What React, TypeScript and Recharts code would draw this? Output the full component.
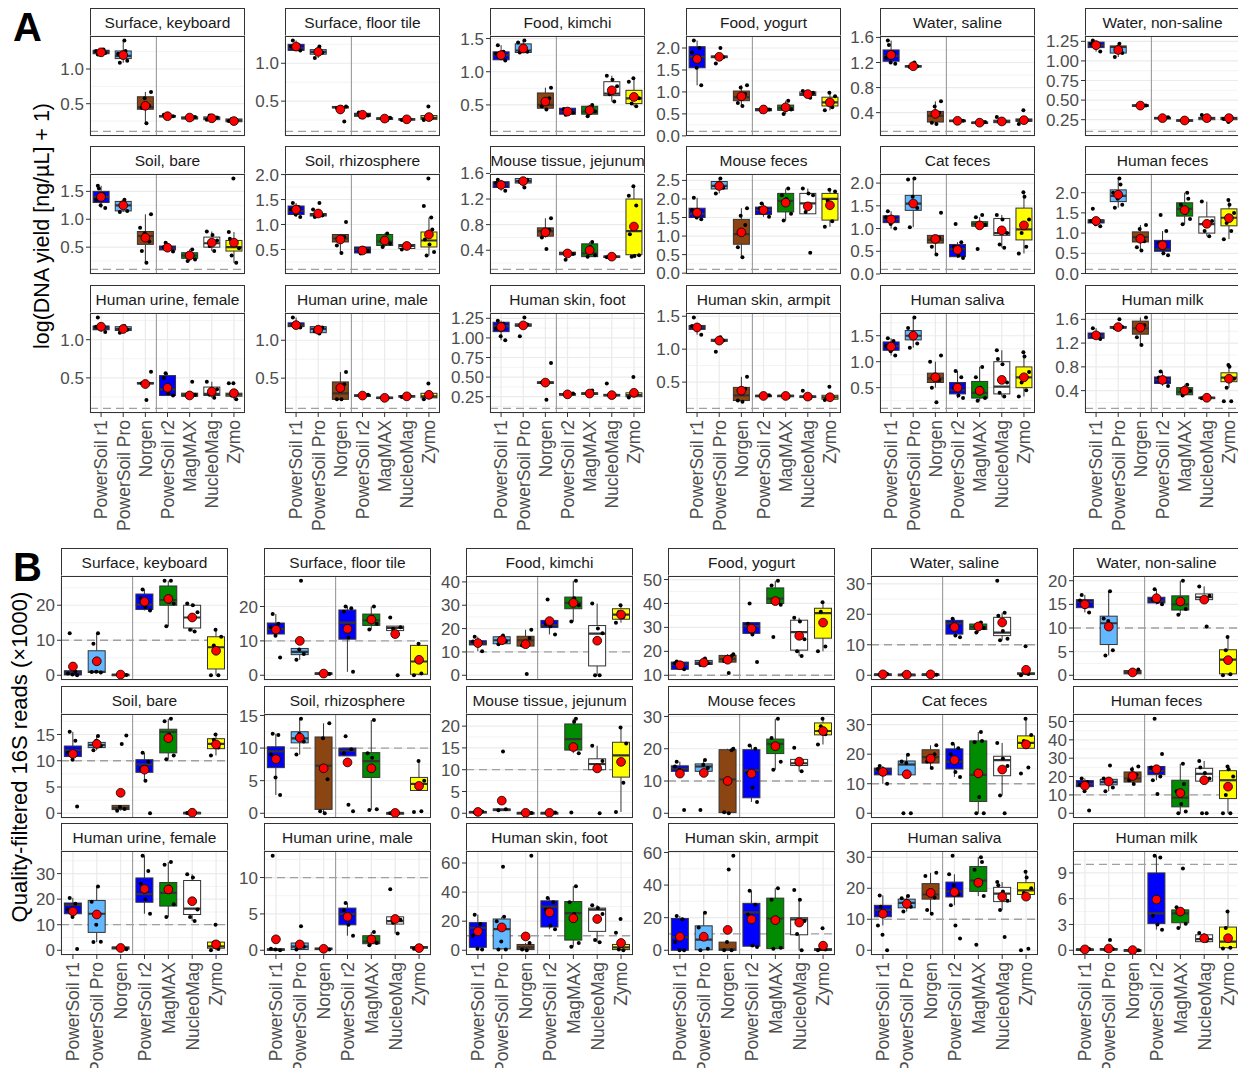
import React from "react";
import { ComposedChart, Bar, Scatter, XAxis, YAxis, CartesianGrid, ReferenceLine } from "recharts";

const FONT = "'Liberation Sans', Arial, Helvetica, sans-serif";

const METHODS = ["PowerSoil r1", "PowerSoil Pro", "Norgen", "PowerSoil r2", "MagMAX", "NucleoMag", "Zymo"];
const METHOD_FILLS = ["#0000FF", "#63B8FF", "#8B4513", "#0000FF", "#008B00", "#FFFFFF", "#FFFF00"];

// each box: [q1, median, q3, mean, points]
type Box = [number, number, number, number, number[]];

// ---------- Panel A: log(DNA yield + 1) ----------
const A_KEYBOARD: Box[] = [
  [1.22, 1.25, 1.27, 1.24, [1.21, 1.23, 1.25, 1.26, 1.28]],
  [1.15, 1.19, 1.26, 1.2, [1.41, 1.09, 1.12, 1.18, 1.22, 1.26]],
  [0.42, 0.45, 0.6, 0.47, [0.67, 0.22, 0.44, 0.47, 0.58]],
  [0.31, 0.32, 0.33, 0.32, [0.31, 0.32, 0.33, 0.34]],
  [0.28, 0.29, 0.31, 0.3, [0.28, 0.29, 0.31, 0.32]],
  [0.27, 0.29, 0.31, 0.29, [0.27, 0.29, 0.33, 0.3]],
  [0.24, 0.26, 0.28, 0.25, [0.23, 0.25, 0.27, 0.28]],
];
const A_FLOOR: Box[] = [
  [1.17, 1.2, 1.25, 1.22, [1.3, 1.17, 1.19, 1.22, 1.24]],
  [1.12, 1.15, 1.18, 1.15, [1.22, 1.07, 1.14, 1.16]],
  [0.41, 0.42, 0.43, 0.39, [0.43, 0.42, 0.41, 0.23]],
  [0.3, 0.32, 0.34, 0.32, [0.29, 0.31, 0.33, 0.35]],
  [0.26, 0.27, 0.28, 0.27, [0.25, 0.27, 0.28]],
  [0.25, 0.26, 0.27, 0.26, [0.25, 0.26, 0.27]],
  [0.26, 0.28, 0.31, 0.29, [0.43, 0.25, 0.27, 0.3]],
];
const A_KIMCHI: Box[] = [
  [1.18, 1.25, 1.3, 1.25, [1.4, 1.17, 1.22, 1.27, 1.3]],
  [1.29, 1.32, 1.42, 1.35, [1.47, 1.29, 1.3, 1.35, 1.44]],
  [0.45, 0.5, 0.68, 0.55, [0.76, 0.43, 0.48, 0.6]],
  [0.36, 0.4, 0.45, 0.4, [0.35, 0.38, 0.42, 0.44]],
  [0.36, 0.4, 0.48, 0.42, [0.5, 0.33, 0.4, 0.45]],
  [0.64, 0.67, 0.85, 0.72, [0.94, 0.55, 0.66, 0.78, 0.88]],
  [0.52, 0.6, 0.72, 0.62, [0.9, 0.85, 0.48, 0.52, 0.6]],
];
const A_YOGURT: Box[] = [
  [1.55, 1.8, 2.03, 1.75, [2.17, 1.15, 1.55, 1.9, 2.0]],
  [1.78, 1.8, 1.82, 1.8, [2.0, 1.65, 1.79, 1.81]],
  [0.8, 0.88, 1.02, 0.9, [1.15, 0.68, 0.75, 0.95, 1.1]],
  [0.57, 0.6, 0.62, 0.6, [0.55, 0.6, 0.65]],
  [0.58, 0.63, 0.7, 0.65, [0.8, 0.5, 0.6, 0.68]],
  [0.92, 0.95, 1.0, 0.95, [1.02, 0.87, 0.94, 0.98]],
  [0.68, 0.76, 0.88, 0.76, [0.98, 0.58, 0.65, 0.8, 0.9]],
];
const A_SALINE: Box[] = [
  [1.22, 1.3, 1.4, 1.32, [1.55, 1.18, 1.2, 1.28, 1.35, 1.48]],
  [1.13, 1.14, 1.15, 1.14, [1.2, 1.13, 1.14]],
  [0.25, 0.35, 0.42, 0.38, [0.58, 0.22, 0.24, 0.4, 0.5]],
  [0.26, 0.27, 0.28, 0.27, [0.26, 0.27, 0.28]],
  [0.23, 0.24, 0.25, 0.24, [0.23, 0.24, 0.25]],
  [0.24, 0.26, 0.28, 0.26, [0.33, 0.24, 0.26]],
  [0.26, 0.28, 0.3, 0.28, [0.44, 0.22, 0.27, 0.29]],
];
const A_NONSALINE: Box[] = [
  [1.17, 1.2, 1.24, 1.2, [1.26, 1.12, 1.19, 1.22]],
  [1.1, 1.18, 1.19, 1.14, [1.22, 1.05, 1.1, 1.17]],
  [0.42, 0.43, 0.44, 0.43, [0.43, 0.44]],
  [0.26, 0.27, 0.28, 0.27, [0.27, 0.28]],
  [0.23, 0.24, 0.25, 0.24, [0.23, 0.25]],
  [0.25, 0.27, 0.28, 0.27, [0.31, 0.25, 0.27]],
  [0.25, 0.27, 0.28, 0.27, [0.22, 0.26, 0.28]],
];
const A_SOILBARE: Box[] = [
  [1.3, 1.4, 1.5, 1.4, [1.6, 1.2, 1.25, 1.35, 1.45, 1.55]],
  [1.15, 1.25, 1.32, 1.25, [1.35, 1.13, 1.15, 1.3]],
  [0.55, 0.7, 0.78, 0.67, [1.09, 0.22, 0.43, 0.6, 0.75, 0.85]],
  [0.45, 0.48, 0.52, 0.49, [0.58, 0.42, 0.47, 0.5]],
  [0.3, 0.35, 0.4, 0.35, [0.46, 0.25, 0.28, 0.38]],
  [0.5, 0.57, 0.68, 0.58, [0.78, 0.43, 0.52, 0.62, 0.72]],
  [0.43, 0.5, 0.62, 0.58, [1.73, 0.77, 0.22, 0.35, 0.48, 0.55, 0.65]],
];
const A_RHIZO: Box[] = [
  [1.2, 1.27, 1.37, 1.3, [1.43, 1.15, 1.2, 1.3, 1.35]],
  [1.17, 1.19, 1.22, 1.22, [1.43, 1.15, 1.18, 1.2, 1.3]],
  [0.65, 0.72, 0.8, 0.7, [1.05, 0.43, 0.58, 0.75]],
  [0.43, 0.5, 0.55, 0.48, [0.42, 0.47, 0.53]],
  [0.58, 0.66, 0.8, 0.68, [0.82, 0.55, 0.62, 0.72]],
  [0.52, 0.57, 0.6, 0.57, [0.5, 0.56, 0.6]],
  [0.55, 0.68, 0.85, 0.8, [1.92, 1.37, 1.14, 0.38, 0.45, 0.6, 0.7, 0.9]],
];
const A_JEJUNUM: Box[] = [
  [1.38, 1.43, 1.47, 1.42, [1.5, 1.33, 1.4, 1.45]],
  [1.45, 1.48, 1.52, 1.48, [1.38, 1.47, 1.5]],
  [0.62, 0.7, 0.75, 0.68, [0.9, 0.42, 0.6, 0.72]],
  [0.33, 0.35, 0.37, 0.35, [0.25, 0.34, 0.36]],
  [0.3, 0.35, 0.5, 0.4, [0.53, 0.3, 0.32, 0.45]],
  [0.29, 0.3, 0.31, 0.3, [0.29, 0.31]],
  [0.33, 0.7, 1.2, 0.77, [1.4, 1.25, 1.1, 0.3, 0.32, 0.31, 0.65]],
];
const A_MOUSEFECES: Box[] = [
  [1.5, 1.6, 1.75, 1.63, [2.03, 1.45, 1.5, 1.7]],
  [2.27, 2.35, 2.47, 2.35, [2.55, 2.15, 2.3, 2.4]],
  [0.78, 1.05, 1.45, 1.1, [1.75, 0.43, 0.7, 1.3, 1.55]],
  [1.58, 1.7, 1.78, 1.7, [1.88, 1.52, 1.65, 1.75]],
  [1.65, 1.95, 2.15, 1.9, [2.28, 1.42, 1.6, 2.0, 2.1]],
  [1.6, 1.88, 2.15, 1.8, [2.28, 0.55, 1.65, 2.1, 2.15]],
  [1.43, 2.0, 2.15, 1.83, [2.25, 1.25, 1.4, 1.95, 2.2]],
];
const A_CATFECES: Box[] = [
  [1.13, 1.2, 1.28, 1.2, [1.38, 1.0, 1.1, 1.25]],
  [1.4, 1.55, 1.73, 1.55, [2.1, 1.03, 1.45, 1.7, 2.08]],
  [0.68, 0.75, 0.85, 0.77, [1.35, 0.43, 0.6, 0.8]],
  [0.38, 0.55, 0.65, 0.53, [1.1, 0.35, 0.4, 0.6, 0.7]],
  [1.05, 1.1, 1.15, 1.07, [1.3, 0.55, 1.08, 1.12, 1.25]],
  [0.85, 0.9, 1.22, 0.96, [1.3, 0.58, 0.65, 0.9, 1.2]],
  [0.75, 0.98, 1.45, 1.07, [1.8, 0.45, 0.6, 0.9, 1.2, 1.7]],
];
const A_HUMANFECES: Box[] = [
  [1.25, 1.3, 1.33, 1.3, [1.6, 1.17, 1.22, 1.3, 1.32]],
  [1.78, 1.92, 2.07, 1.95, [2.35, 1.63, 1.7, 1.85, 2.0, 2.2]],
  [0.78, 0.9, 1.03, 0.86, [1.2, 0.57, 0.65, 0.8, 1.1]],
  [0.55, 0.6, 0.82, 0.7, [1.45, 0.45, 0.5, 0.75, 1.05]],
  [1.42, 1.6, 1.75, 1.57, [2.0, 1.22, 1.35, 1.5, 1.7, 1.85]],
  [1.0, 1.22, 1.4, 1.23, [1.78, 0.92, 1.05, 1.3]],
  [1.18, 1.38, 1.6, 1.37, [1.82, 0.85, 1.05, 1.25, 1.5, 1.7]],
];
const A_URINE_F: Box[] = [
  [1.13, 1.15, 1.18, 1.17, [1.29, 1.1, 1.14, 1.17]],
  [1.12, 1.14, 1.17, 1.14, [1.18, 1.09, 1.13, 1.16]],
  [0.42, 0.43, 0.44, 0.42, [0.58, 0.21, 0.43]],
  [0.27, 0.35, 0.53, 0.37, [0.56, 0.27, 0.3, 0.5]],
  [0.26, 0.27, 0.3, 0.27, [0.45, 0.25, 0.28]],
  [0.27, 0.29, 0.38, 0.32, [0.45, 0.24, 0.28, 0.35]],
  [0.26, 0.28, 0.3, 0.3, [0.43, 0.43, 0.22, 0.27]],
];
const A_URINE_M: Box[] = [
  [1.18, 1.2, 1.23, 1.2, [1.3, 1.17, 1.21]],
  [1.1, 1.15, 1.18, 1.14, [1.09, 1.12, 1.17]],
  [0.22, 0.3, 0.45, 0.37, [0.58, 0.22, 0.22, 0.42]],
  [0.26, 0.27, 0.28, 0.27, [0.26, 0.28]],
  [0.23, 0.24, 0.25, 0.24, [0.23, 0.25]],
  [0.25, 0.26, 0.27, 0.26, [0.25, 0.27]],
  [0.24, 0.26, 0.3, 0.28, [0.43, 0.22, 0.27]],
];
const A_SKIN_FOOT: Box[] = [
  [1.08, 1.15, 1.2, 1.14, [1.22, 0.97, 1.02, 1.12, 1.18]],
  [1.15, 1.16, 1.18, 1.16, [1.26, 1.02, 1.17]],
  [0.42, 0.43, 0.44, 0.43, [0.68, 0.21, 0.43]],
  [0.27, 0.28, 0.29, 0.28, [0.27, 0.29]],
  [0.28, 0.29, 0.3, 0.29, [0.33, 0.28]],
  [0.26, 0.27, 0.28, 0.27, [0.42, 0.26]],
  [0.25, 0.27, 0.3, 0.3, [0.5, 0.24, 0.28]],
];
const A_SKIN_ARMPIT: Box[] = [
  [1.3, 1.33, 1.36, 1.33, [1.48, 1.22, 1.3, 1.35]],
  [1.12, 1.13, 1.15, 1.13, [1.18, 0.96, 1.13]],
  [0.22, 0.3, 0.42, 0.37, [0.58, 0.2, 0.22, 0.4]],
  [0.28, 0.29, 0.3, 0.29, [0.28, 0.3]],
  [0.28, 0.29, 0.3, 0.29, [0.27, 0.3]],
  [0.27, 0.28, 0.29, 0.28, [0.37, 0.26]],
  [0.24, 0.27, 0.3, 0.27, [0.43, 0.23]],
];
const A_SALIVA: Box[] = [
  [1.22, 1.3, 1.38, 1.29, [1.45, 1.12, 1.2, 1.3, 1.4]],
  [1.42, 1.5, 1.6, 1.5, [1.85, 1.27, 1.35, 1.55, 1.65]],
  [0.6, 0.68, 0.78, 0.7, [1.12, 0.22, 0.5, 0.65, 0.75, 1.0]],
  [0.38, 0.45, 0.6, 0.5, [0.82, 0.3, 0.35, 0.5, 0.7]],
  [0.3, 0.4, 0.62, 0.44, [0.9, 0.25, 0.3, 0.5, 0.7]],
  [0.38, 0.52, 1.0, 0.65, [1.22, 0.33, 0.4, 0.6, 0.95, 1.05]],
  [0.5, 0.7, 0.9, 0.7, [1.18, 0.33, 0.45, 0.6, 0.8, 1.1]],
];
const A_MILK: Box[] = [
  [1.28, 1.32, 1.37, 1.33, [1.45, 1.27, 1.35]],
  [1.45, 1.47, 1.48, 1.47, [1.6, 1.45, 1.47]],
  [1.35, 1.45, 1.57, 1.46, [1.63, 1.17, 1.3, 1.5]],
  [0.52, 0.58, 0.63, 0.58, [0.72, 0.48, 0.55, 0.62]],
  [0.33, 0.38, 0.45, 0.4, [0.5, 0.32, 0.4]],
  [0.27, 0.28, 0.29, 0.28, [0.27, 0.29]],
  [0.55, 0.62, 0.7, 0.6, [0.83, 0.22, 0.22, 0.45, 0.6, 0.8]],
];

// ---------- Panel B: Quality-filtered 16S reads (x1000) ----------
const B_KEYBOARD: Box[] = [
  [0.1, 0.8, 1.3, 2.5, [12, 0, 0.2, 0.5, 1.0]],
  [0.8, 1.0, 7, 4, [12, 9, 0.8, 1.0, 0.9]],
  [0.05, 0.15, 0.3, 0.2, [0.1, 0.3]],
  [18.8, 20.2, 23.2, 21, [24.5, 18.5, 19.5, 22]],
  [20, 21.5, 25.5, 21.8, [27, 14, 20.5, 21, 27]],
  [13.5, 16.5, 20, 16.5, [20.5, 12.5, 13, 18, 20]],
  [1.8, 8, 11, 7, [13, 0, 0, 8.5, 11]],
];
const B_FLOOR: Box[] = [
  [12, 13.5, 15.2, 13.3, [17.8, 5.2, 11.5, 14, 15]],
  [6, 6.8, 7.8, 10, [27.5, 4.5, 6.2, 7.5]],
  [0.3, 0.5, 0.7, 0.5, [0.4, 0.6]],
  [10.5, 15.3, 19, 13.5, [20, 1, 11, 18.5, 19.5]],
  [14.5, 16, 17.8, 16.2, [20, 13.3, 15, 17]],
  [13, 13.8, 14.3, 12, [16.8, 0, 13.5, 14]],
  [0.3, 4, 8.7, 4.5, [9.2, 0, 0.5, 4.5]],
];
const B_KIMCHI: Box[] = [
  [13, 13.8, 14.8, 13.8, [16.5, 10.3, 13.5, 14.5]],
  [13.5, 15, 16.5, 15, [17, 13.3, 14.5, 16]],
  [12.5, 15, 16.7, 13.3, [19.5, 0.5, 12.8, 16]],
  [20.5, 21.5, 23.5, 23.2, [32.5, 17.5, 21, 22]],
  [28.5, 31, 33.5, 31, [40.5, 23, 30, 33]],
  [4, 17.8, 21.3, 14.8, [30.7, 0, 0, 18, 20]],
  [24, 26, 28.5, 26, [30, 22.5, 25, 27]],
];
const B_YOGURT: Box[] = [
  [12.5, 14.5, 15.5, 14.2, [15.8, 12.5, 13.5, 15]],
  [14.5, 15.2, 16.2, 15.3, [17, 14.3, 15]],
  [15.5, 16.8, 18.3, 16.5, [18.8, 11, 16, 18]],
  [27.5, 30.5, 32, 29.5, [40, 15.5, 27, 31.5]],
  [40, 42, 46.5, 41, [49.5, 26, 39.5, 41, 47.5]],
  [20.5, 28, 33, 26.5, [34, 18, 20, 25, 32.5]],
  [25.5, 36, 38, 32, [40.5, 20, 22, 36.5]],
];
const B_SALINE: Box[] = [
  [0.2, 0.3, 0.4, 0.3, [0.2, 0.4]],
  [0.1, 0.2, 0.3, 0.2, [0.1, 0.3]],
  [0.2, 0.3, 0.4, 0.3, [0.2, 0.4]],
  [13.5, 17, 18, 15.8, [18.5, 12.5, 13, 16]],
  [15, 15.8, 16.8, 16, [17.3, 14, 15.5]],
  [13, 14, 19, 17.3, [31, 20.5, 11.5, 12, 14.5, 19.5]],
  [0.3, 0.5, 0.8, 1.8, [9.5, 0, 0.4]],
];
const B_NONSALINE: Box[] = [
  [14.3, 15.5, 16, 15, [17, 13.3, 14.5, 15.8]],
  [6.5, 11, 12.5, 10.3, [17.8, 4.2, 5.3, 11.5, 12]],
  [0.3, 0.6, 1, 0.6, [1.2, 0.3]],
  [15.3, 15.8, 16.5, 16.3, [18.2, 15, 15.5, 16]],
  [13.8, 15, 16.8, 15.6, [20, 12.8, 14, 16]],
  [16, 16.5, 17.2, 16, [18.8, 10.3, 16.2, 16.8]],
  [0.3, 3.3, 5.4, 3.2, [8.1, 0, 0.2, 5.3]],
];
const B_SOILBARE: Box[] = [
  [10.8, 12, 12.8, 11.3, [15.5, 1.3, 10.2, 11.5, 13.8]],
  [12.5, 13, 13.5, 13.2, [14.7, 12, 12.8, 13.8]],
  [0.7, 1, 1.5, 3.9, [14.8, 13.2, 0.5, 0.8, 1.2]],
  [7.8, 9.3, 10.2, 8.3, [11.5, 0, 6.2, 8.5, 9.8]],
  [11.5, 15.5, 16, 14.3, [18, 10.3, 11, 15, 17.5]],
  [0.05, 0.1, 0.15, 0.1, [0.05, 0.15]],
  [12.3, 13.2, 14.2, 13.1, [15, 11, 12.5, 14]],
];
const B_RHIZO: Box[] = [
  [7, 9.5, 10.2, 8.3, [12.2, 2.8, 5.5, 9, 12]],
  [10.8, 11.5, 12.5, 11.6, [14.5, 9, 11, 12.2]],
  [0.6, 7.3, 11.7, 6.9, [13.8, 0, 0.3, 5.2, 11.5]],
  [8.8, 9.6, 10, 7.8, [11.8, 0.3, 1.3, 9.2, 9.8]],
  [5.5, 8, 9.3, 6.9, [14.3, 0.5, 0.6, 8.5, 9.2]],
  [0.02, 0.05, 0.08, 0.05, [0, 0.1]],
  [3.5, 4.5, 5.5, 4.2, [8, 0.2, 0.3, 4, 5]],
];
const B_JEJUNUM: Box[] = [
  [0.2, 0.3, 0.4, 0.3, [0.2, 0.4]],
  [0.6, 0.8, 1.0, 2.9, [14.2, 0.7, 0.9]],
  [0.05, 0.1, 0.15, 0.1, [0.05, 0.15]],
  [0.05, 0.1, 0.15, 0.1, [0.05, 0.15]],
  [14.5, 17, 20.5, 15.2, [21.7, 0.2, 13.8, 21]],
  [10, 11.3, 12.5, 10.3, [15.5, 0, 10.5, 12]],
  [8.3, 13.3, 16.3, 11.8, [19.7, 0.3, 7, 12, 16]],
];
const B_MOUSEFECES: Box[] = [
  [13, 13.8, 14.7, 12.3, [16, 1, 13.5, 14.5]],
  [13, 14.5, 15.3, 12.5, [16.5, 1, 14, 15]],
  [0.2, 10.5, 19.7, 10, [20, 0, 0.3, 19.5]],
  [4.8, 13.3, 19.7, 12.3, [21, 3.5, 8, 12.5, 20]],
  [18.5, 21.5, 23, 20.8, [29.3, 13.5, 16, 21, 23.3]],
  [14.8, 15.5, 16.7, 16, [20.3, 13, 15.5]],
  [24.3, 25.5, 28, 25.5, [29.3, 21.3, 24.5, 27]],
];
const B_CATFECES: Box[] = [
  [13, 14.5, 15.3, 14, [16, 10, 13.5, 15]],
  [13, 16.5, 17.7, 13.2, [19.8, 0, 0, 17, 17.5]],
  [17, 19, 21.5, 18.5, [23, 15.3, 17.5, 20]],
  [15, 17.5, 21.8, 18, [23.5, 12.3, 14, 20, 22]],
  [4, 13, 24.5, 13.5, [27.5, 0, 0, 5.5, 24, 24.5]],
  [12.7, 18, 19.3, 14.8, [23.8, 0, 6, 16, 18.5]],
  [22, 23.8, 26.2, 23.3, [32, 13.5, 15.5, 24.5, 26.5]],
];
const B_HUMANFECES: Box[] = [
  [14.5, 16, 17.8, 15, [19, 1.5, 12, 15.5, 17]],
  [15.5, 17, 18.5, 17.3, [26, 12, 14, 17.5, 19]],
  [17, 19, 22.5, 20.3, [25.5, 16, 18, 21, 24]],
  [21, 23, 25.5, 24, [51.5, 32.3, 10.5, 18, 20, 23, 25]],
  [3.5, 8.5, 18, 11, [27, 0, 1, 5, 12, 16]],
  [17.5, 21.5, 24.5, 18, [28.5, 0, 0, 19, 22, 25]],
  [8, 18, 23.2, 14.5, [25.5, 0, 0, 10, 20, 24]],
];
const B_URINE_F: Box[] = [
  [14.3, 17.8, 18.5, 15.2, [20.5, 0.5, 13, 16, 18.2]],
  [7, 14.3, 19.5, 14, [25, 3.2, 3.3, 10, 19]],
  [0.5, 0.9, 1.3, 0.9, [0.4, 1.2]],
  [18.8, 22, 28.3, 24, [37, 14.3, 20, 26, 31]],
  [17.3, 22.5, 26.5, 23.8, [34.5, 13, 18, 25, 33.5]],
  [14, 16.3, 27.3, 19.2, [29.8, 11.5, 13, 16, 28.5]],
  [0.8, 1.5, 3.2, 2.3, [10, 0, 0.5, 3]],
];
const B_URINE_M: Box[] = [
  [0.05, 0.1, 0.2, 1.5, [13, 0, 0.1, 0.2]],
  [0.1, 0.5, 1, 0.8, [3.3, 0.1, 0.5, 1]],
  [0.1, 0.2, 0.3, 0.2, [0.1, 0.3]],
  [3.5, 5, 5.8, 4.6, [6.5, 2, 3.5, 5.5]],
  [0.9, 1.2, 2, 1.5, [2.5, 0.7, 1, 1.8]],
  [3.6, 4, 4.6, 4.3, [8.4, 2.3, 3.8, 4.2]],
  [0.3, 0.4, 0.5, 0.3, [0.6, 0.2]],
];
const B_SKIN_FOOT: Box[] = [
  [2, 15.5, 19, 13, [24.5, 0.5, 1, 10, 18]],
  [1, 14.5, 21.5, 15.7, [57.5, 0.5, 0.5, 6, 20, 23]],
  [0.5, 2, 4, 9.5, [65, 0, 0.5, 5]],
  [16, 30, 34, 26, [36, 14.5, 17, 28, 33]],
  [7, 25.5, 33.5, 22, [44, 2.5, 5, 25, 33]],
  [13, 28, 29, 21.5, [31, 5.5, 7, 25, 29]],
  [0.5, 2, 4, 5, [21.5, 12, 0, 0.5]],
];
const B_SKIN_ARMPIT: Box[] = [
  [0, 8, 19.5, 8.3, [21, 0, 0, 5, 19]],
  [0.3, 6.5, 15, 8.3, [23, 0, 1, 8, 14]],
  [0, 0.5, 5, 12.5, [58, 49.5, 0, 0, 5]],
  [2.5, 23.3, 28.8, 19, [36.5, 2, 3, 22, 28]],
  [1, 19.5, 32, 18.5, [38, 1, 1.5, 20, 31]],
  [9.5, 19, 20, 17, [37, 0, 10, 18, 31]],
  [0, 0.3, 1, 2.8, [13.5, 0, 0.5, 1]],
];
const B_SALIVA: Box[] = [
  [10.8, 13, 14.5, 11.8, [17.7, 0, 5, 8, 12, 14]],
  [13.7, 15.3, 16.5, 15, [17.5, 12.5, 14, 15.5, 16.8]],
  [16.5, 18, 21.5, 18.5, [25, 11.8, 13, 17, 19, 24]],
  [17.2, 19, 22, 18.8, [30.5, 3.8, 8, 14.5, 18, 21, 24.5]],
  [19, 22.5, 27, 21.8, [30, 1.8, 17.5, 22, 26, 28.5]],
  [15.7, 18.3, 20.3, 17.3, [22, 4.3, 13, 16, 19, 21]],
  [18, 19.3, 21.8, 17.3, [25.3, 0, 0.5, 18.5, 20, 23.5]],
];
const B_MILK: Box[] = [
  [0.05, 0.1, 0.15, 0.1, [0.05, 0.15, 0.1]],
  [0.05, 0.1, 0.2, 0.2, [1.2, 0.05, 0.15]],
  [0, 0.02, 0.05, 0.02, [0, 0.05]],
  [3.1, 4.3, 9, 5.9, [11, 2.4, 3, 4, 10.8]],
  [3.2, 4.3, 4.7, 4.5, [9.5, 2.6, 3.1, 4.5, 5]],
  [1, 1.3, 1.8, 1.4, [2, 1.1, 1.5]],
  [0.3, 1, 2.7, 1.4, [4.5, 0.2, 0.3, 2.6]],
];

const SAMPLE_TITLES = [
  "Surface, keyboard", "Surface, floor tile", "Food, kimchi", "Food, yogurt", "Water, saline", "Water, non-saline",
  "Soil, bare", "Soil, rhizosphere", "Mouse tissue, jejunum", "Mouse feces", "Cat feces", "Human feces",
  "Human urine, female", "Human urine, male", "Human skin, foot", "Human skin, armpit", "Human saliva", "Human milk",
];

const A_DATA = [A_KEYBOARD, A_FLOOR, A_KIMCHI, A_YOGURT, A_SALINE, A_NONSALINE, A_SOILBARE, A_RHIZO, A_JEJUNUM,
  A_MOUSEFECES, A_CATFECES, A_HUMANFECES, A_URINE_F, A_URINE_M, A_SKIN_FOOT, A_SKIN_ARMPIT, A_SALIVA, A_MILK];
const B_DATA = [B_KEYBOARD, B_FLOOR, B_KIMCHI, B_YOGURT, B_SALINE, B_NONSALINE, B_SOILBARE, B_RHIZO, B_JEJUNUM,
  B_MOUSEFECES, B_CATFECES, B_HUMANFECES, B_URINE_F, B_URINE_M, B_SKIN_FOOT, B_SKIN_ARMPIT, B_SALIVA, B_MILK];

const A_TICKS = [
  ["0.5", "1.0"], ["0.5", "1.0"], ["0.5", "1.0", "1.5"], ["0.0", "0.5", "1.0", "1.5", "2.0"], ["0.4", "0.8", "1.2", "1.6"], ["0.25", "0.50", "0.75", "1.00", "1.25"],
  ["0.5", "1.0", "1.5"], ["0.5", "1.0", "1.5", "2.0"], ["0.4", "0.8", "1.2", "1.6"], ["0.0", "0.5", "1.0", "1.5", "2.0", "2.5"], ["0.0", "0.5", "1.0", "1.5", "2.0"], ["0.0", "0.5", "1.0", "1.5", "2.0"],
  ["0.5", "1.0"], ["0.5", "1.0"], ["0.25", "0.50", "0.75", "1.00", "1.25"], ["0.5", "1.0", "1.5"], ["0.5", "1.0", "1.5"], ["0.4", "0.8", "1.2", "1.6"],
];
const B_TICKS = [
  ["0", "10", "20"], ["0", "10", "20"], ["0", "10", "20", "30", "40"], ["10", "20", "30", "40", "50"], ["0", "10", "20", "30"], ["0", "5", "10", "15", "20"],
  ["0", "5", "10", "15"], ["0", "5", "10", "15"], ["0", "5", "10", "15", "20"], ["0", "10", "20", "30"], ["0", "10", "20", "30"], ["0", "10", "20", "30", "40", "50"],
  ["0", "10", "20", "30"], ["0", "5", "10"], ["0", "20", "40", "60"], ["0", "20", "40", "60"], ["0", "10", "20", "30"], ["0", "3", "6", "9"],
];
const A_THRESHOLD = 0.1;
const B_THRESHOLD = 10;

// ---------- layout ----------
const A_LAYOUT = { lefts: [90, 285, 490, 686, 880, 1085], width: 155, tops: [8, 146, 285], stripH: 29, panelH: 100 };
const B_LAYOUT = { lefts: [61, 264, 466, 668, 871, 1073], width: 167, tops: [548, 686, 823], stripH: 29, panelH: 104 };

const GRID = "#EBEBEB";
const DARK = "#333333";
const TICK_COLOR = "#4D4D4D";
const PAD = 12;

function buildFacet(boxes: Box[], threshold: number) {
  const rows = METHODS.map((m, i) => {
    const [q1, med, q3, mean, pts] = boxes[i];
    const iqr = q3 - q1;
    const inside = pts.filter((p) => p >= q1 - 1.5 * iqr && p <= q3 + 1.5 * iqr);
    const lo = Math.min(q1, ...inside);
    const hi = Math.max(q3, ...inside);
    return { m, range: [lo, hi], lo, hi, q1, med, q3, mean, fill: METHOD_FILLS[i], k: i };
  });
  const pts: any[] = [];
  boxes.forEach((b, i) => b[4].forEach((v, j) => pts.push({ m: METHODS[i], v, k: i, j })));
  const all = [threshold, ...pts.map((p) => p.v), ...rows.flatMap((r) => [r.lo, r.hi, r.mean])];
  const mn = Math.min(...all);
  const mx = Math.max(...all);
  const pad = (mx - mn) * 0.05;
  return { rows, pts, domain: [mn - pad, mx + pad] as [number, number] };
}

function BoxShape(props: any) {
  const { x, y, width, height, payload } = props;
  if (!payload || x == null || y == null) return null;
  const top = Math.min(y, y + height);
  const h = Math.abs(height);
  const { lo, hi, q1, med, q3, fill } = payload;
  const span = hi - lo;
  const py = (v: number) => (span > 0 ? top + (h * (hi - v)) / span : top);
  const cx = x + width / 2;
  const yq3 = py(q3);
  const yq1 = py(q1);
  return (
    <g>
      <line x1={cx} x2={cx} y1={py(hi)} y2={yq3} stroke={DARK} strokeWidth={1} />
      <line x1={cx} x2={cx} y1={yq1} y2={py(lo)} stroke={DARK} strokeWidth={1} />
      <rect x={x} y={yq3} width={width} height={Math.max(yq1 - yq3, 1.5)} fill={fill} stroke={DARK} strokeWidth={1} />
      <line x1={x} x2={x + width} y1={py(med)} y2={py(med)} stroke={DARK} strokeWidth={2.2} />
    </g>
  );
}

function PointShape(props: any) {
  const { cx, cy, payload } = props;
  if (cx == null || cy == null) return null;
  const j = payload ? payload.j : 0;
  const k = payload ? payload.k : 0;
  const frac = ((j * 0.618034 + k * 0.371 + 0.23) % 1) - 0.5;
  return <circle cx={cx + frac * 12} cy={cy} r={2} fill="#000" />;
}

function MeanShape(props: any) {
  const { cx, cy } = props;
  if (cx == null || cy == null) return null;
  return <circle cx={cx} cy={cy} r={4.4} fill="#FF0000" stroke="#000" strokeWidth={0.8} />;
}

function XTick(props: any) {
  const { x, y, payload } = props;
  return (
    <text x={x} y={y} dy="0.36em" textAnchor="end" transform={`rotate(-90 ${x} ${y})`} fill={TICK_COLOR} fontSize={17.5} fontFamily={FONT}>
      {payload.value}
    </text>
  );
}

function Facet(props: { title: string; boxes: Box[]; ticks: string[]; threshold: number; left: number; top: number; w: number; stripH: number; panelH: number; bottom: boolean }) {
  const { title, boxes, ticks, threshold, left, top, w, stripH, panelH, bottom } = props;
  const { rows, pts, domain } = buildFacet(boxes, threshold);
  const tickVals = ticks.map(Number);
  const step = tickVals.length > 1 ? tickVals[1] - tickVals[0] : 1;
  const minors: number[] = [];
  for (let v = tickVals[0] - step / 2; v <= domain[1]; v += step) if (v >= domain[0]) minors.push(v);
  const YW = 60;
  const XH = bottom ? 150 : 0;
  const panelTop = top + stripH - 1;
  const fmt = (v: number) => {
    const i = tickVals.indexOf(v);
    return i >= 0 ? ticks[i] : String(v);
  };
  return (
    <>
      <div
        style={{
          position: "absolute", left, top, width: w, height: stripH, border: `1px solid ${DARK}`, boxSizing: "border-box",
          background: "#fff", display: "flex", alignItems: "center", justifyContent: "center", fontSize: 15.5,
          color: "#1A1A1A", whiteSpace: "nowrap", overflow: "hidden", fontFamily: FONT,
        }}
      >
        {title}
      </div>
      <div style={{ position: "absolute", left: left - YW, top: panelTop - PAD }}>
        <ComposedChart
          width={YW + w}
          height={panelH + PAD + (bottom ? XH : PAD)}
          data={rows}
          margin={{ top: PAD, right: 0, bottom: bottom ? 0 : PAD, left: 0 }}
          barCategoryGap="14%"
        >
          <CartesianGrid stroke={GRID} strokeWidth={0.6} vertical={false} horizontalValues={minors} />
          <CartesianGrid stroke={GRID} strokeWidth={1.2} />
          <CartesianGrid stroke="#A0A0A0" strokeWidth={1.3} strokeDasharray="8 5" vertical={false} horizontalValues={[threshold]} />
          <XAxis
            dataKey="m"
            type="category"
            allowDuplicatedCategory={false}
            height={XH}
            interval={0}
            tick={bottom ? <XTick /> : false}
            tickLine={bottom ? { stroke: DARK } : false}
            axisLine={false}
            tickSize={4}
            tickMargin={3}
          />
          <YAxis
            type="number"
            domain={domain}
            ticks={tickVals}
            allowDataOverflow
            width={YW}
            interval={0}
            tick={{ fill: TICK_COLOR, fontSize: 17, fontFamily: FONT }}
            tickFormatter={fmt}
            axisLine={false}
            tickLine={{ stroke: DARK }}
            tickSize={4}
            tickMargin={2}
          />
          <ReferenceLine x="PowerSoil r2" position="start" stroke="#A0A0A0" strokeWidth={1.2} />
          <Bar dataKey="range" shape={BoxShape} isAnimationActive={false} />
          <Scatter data={pts} dataKey="v" shape={PointShape} isAnimationActive={false} />
          <Scatter dataKey="mean" shape={MeanShape} isAnimationActive={false} />
        </ComposedChart>
      </div>
      <div
        style={{
          position: "absolute", left, top: panelTop, width: w, height: panelH, border: `1px solid ${DARK}`,
          boxSizing: "border-box", pointerEvents: "none",
        }}
      />
    </>
  );
}

function PanelGroup(props: { data: Box[][]; ticks: string[][]; threshold: number; layout: typeof A_LAYOUT }) {
  const { data, ticks, threshold, layout } = props;
  return (
    <>
      {data.map((boxes, idx) => {
        const r = Math.floor(idx / 6);
        const c = idx % 6;
        return (
          <Facet
            key={idx}
            title={SAMPLE_TITLES[idx]}
            boxes={boxes}
            ticks={ticks[idx]}
            threshold={threshold}
            left={layout.lefts[c]}
            top={layout.tops[r]}
            w={layout.width}
            stripH={layout.stripH}
            panelH={layout.panelH}
            bottom={r === 2}
          />
        );
      })}
    </>
  );
}

export default function App() {
  return (
    <div style={{ position: "absolute", left: 0, top: 0, width: 1238, height: 1068, overflow: "hidden", background: "#fff", fontFamily: FONT }}>
      <PanelGroup data={A_DATA} ticks={A_TICKS} threshold={A_THRESHOLD} layout={A_LAYOUT} />
      <PanelGroup data={B_DATA} ticks={B_TICKS} threshold={B_THRESHOLD} layout={B_LAYOUT} />
      <svg width={1238} height={1068} style={{ position: "absolute", left: 0, top: 0, pointerEvents: "none" }}>
        <text x={13} y={41} fontSize={40} fontWeight="bold" fontFamily={FONT} fill="#000">A</text>
        <text x={13} y={581} fontSize={40} fontWeight="bold" fontFamily={FONT} fill="#000">B</text>
        <text x={42} y={226} transform="rotate(-90 42 226)" textAnchor="middle" dominantBaseline="central" fontSize={21.5} fontFamily={FONT} fill="#000">
          log(DNA yield [ng/µL] + 1)
        </text>
        <text x={19} y={757} transform="rotate(-90 19 757)" textAnchor="middle" dominantBaseline="central" fontSize={22} fontFamily={FONT} fill="#000">
          Quality-filtered 16S reads (×1000)
        </text>
      </svg>
    </div>
  );
}
